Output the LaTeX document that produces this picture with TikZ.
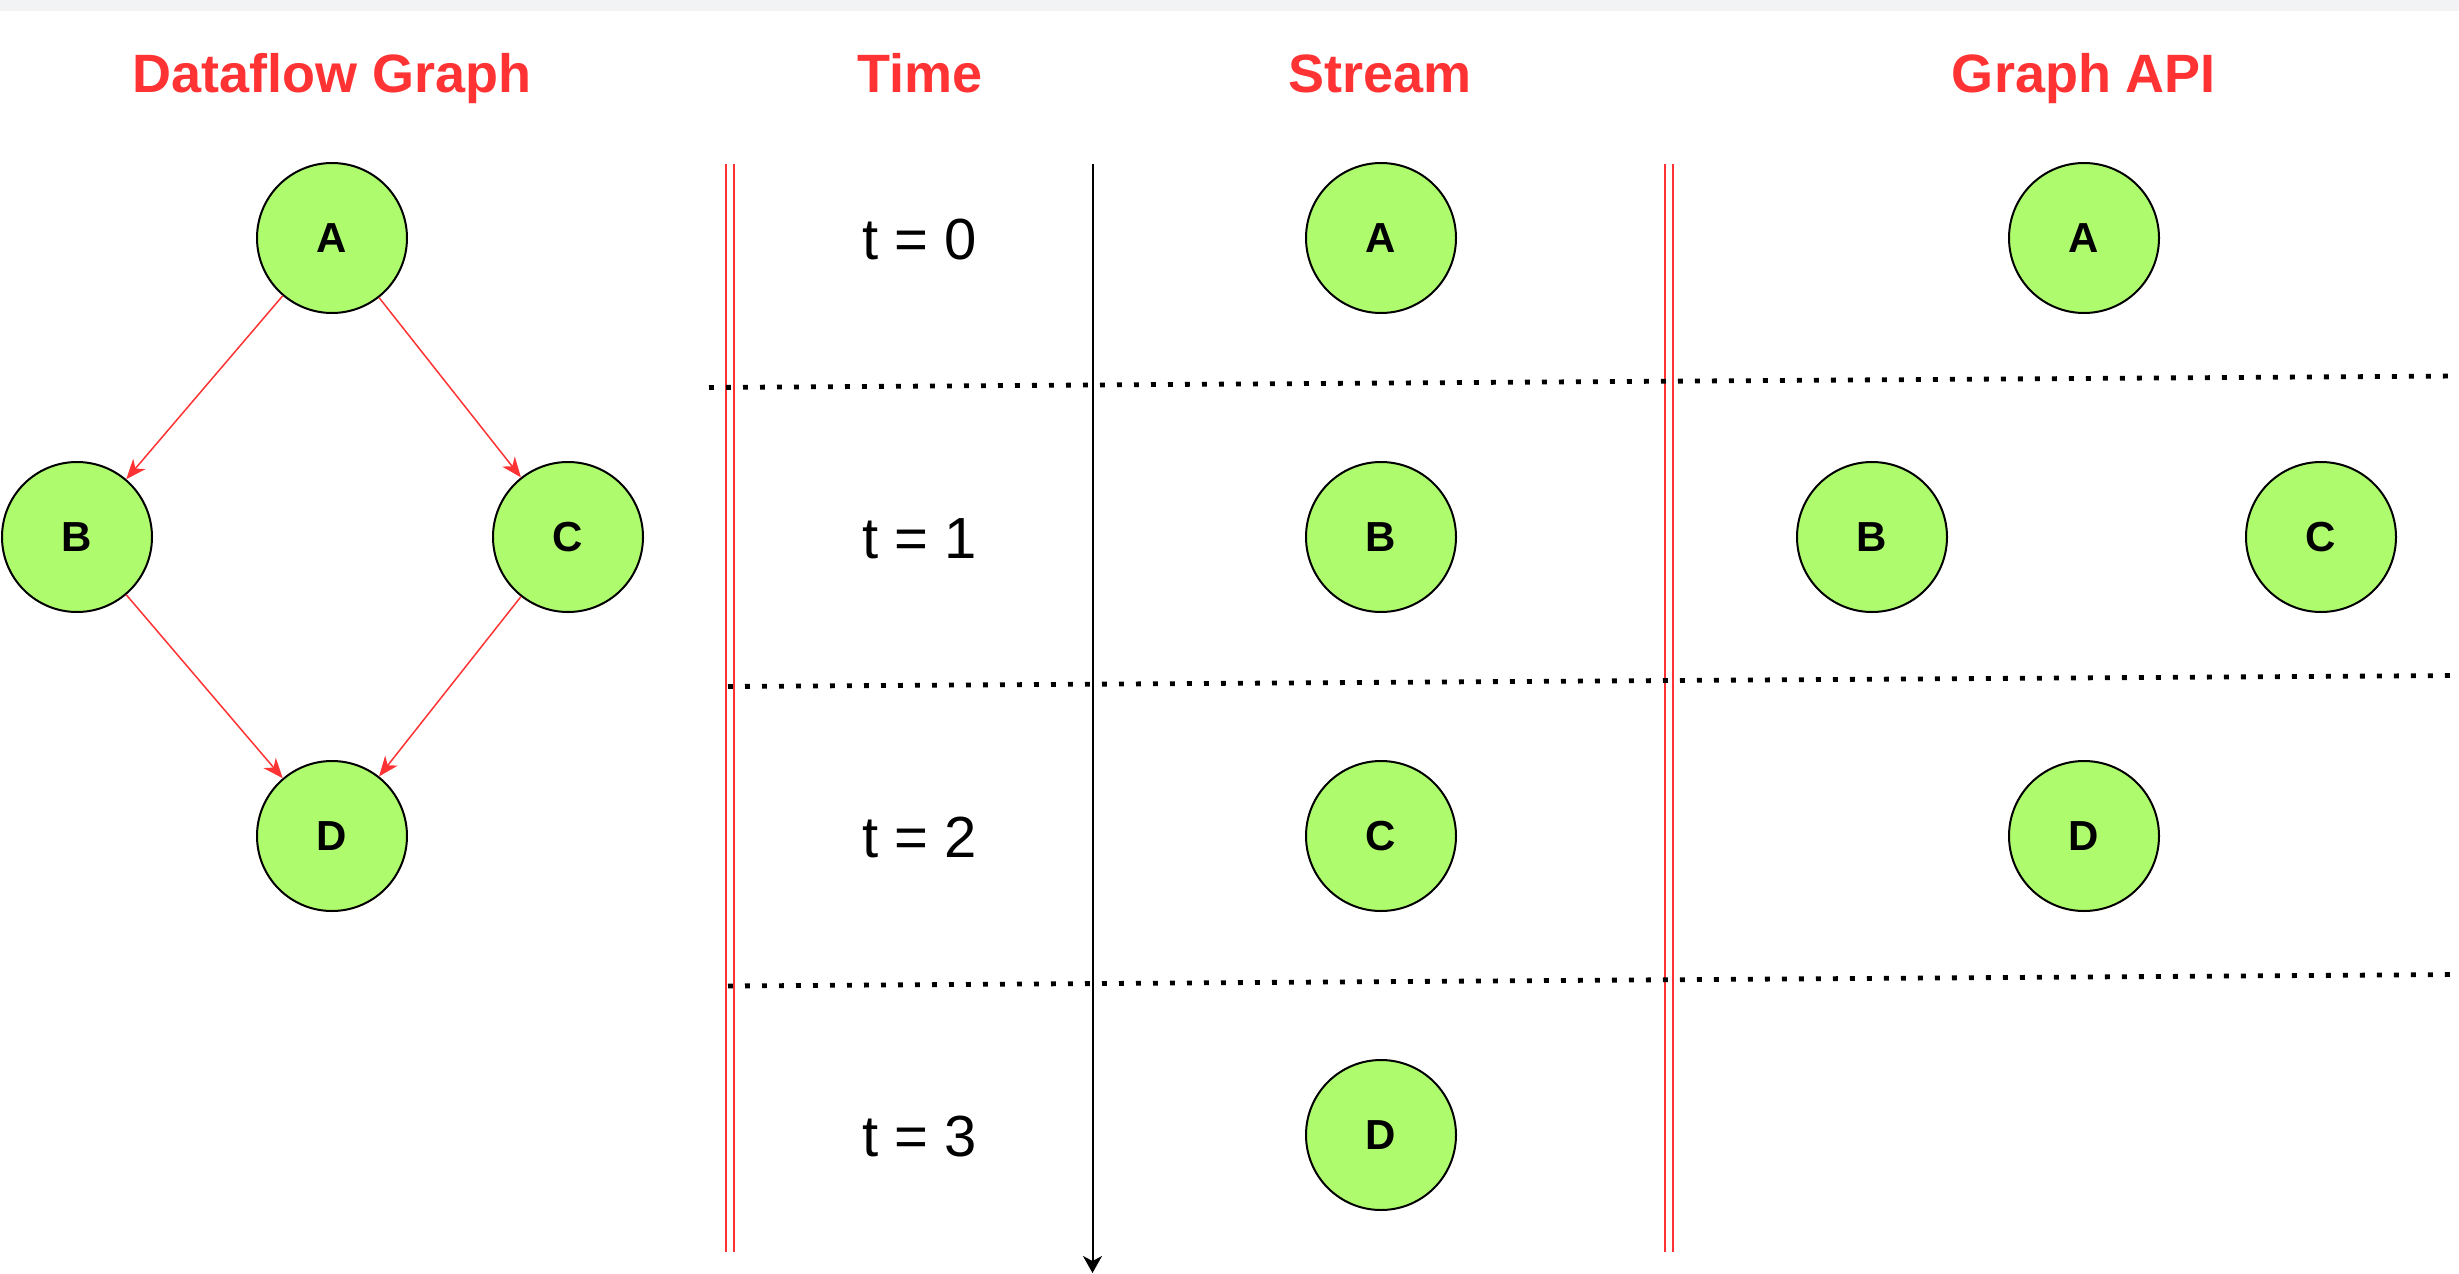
\documentclass[tikz,border=0pt]{standalone}
\usepackage{fontspec}
\setmainfont{Liberation Sans}
\usetikzlibrary{arrows.meta}
\definecolor{nodegreen}{HTML}{AEFC6E}
\definecolor{titlered}{HTML}{FF3333}
\definecolor{bandgrey}{HTML}{F2F3F5}
\tikzset{
  vertex/.style={circle, draw=black, line width=1pt, fill=nodegreen, minimum size=75pt, inner sep=0pt, font=\fontsize{21}{21}\selectfont\bfseries},
  coltitle/.style={anchor=base, text=titlered, font=\fontsize{27}{27}\selectfont\bfseries},
  tlabel/.style={anchor=base, font=\fontsize{29}{29}\selectfont},
  flow/.style={draw=titlered, line width=0.75pt, -{Stealth[length=10pt,width=8pt,inset=3pt]}},
  sepline/.style={draw=titlered, line width=1.1pt},
  dotline/.style={draw=black, line width=2.4pt, dash pattern=on 2.4pt off 6.1pt},
  axis/.style={draw=black, line width=1pt, -{Stealth[length=8.5pt,width=9.5pt,inset=2.5pt]}}
}
\begin{document}
\begin{tikzpicture}[x=0.5pt, y=-0.5pt]
\useasboundingbox (0,0) rectangle (2459,1274);
\fill[bandgrey] (0,0) rectangle (2459,11);

% titles
\node[coltitle] (t1) at (332,92) {Dataflow Graph};
\node[coltitle] (t2) at (920,92) {Time};
\node[coltitle] (t3) at (1380,92) {Stream};
\node[coltitle] (t4) at (2084,92) {Graph API};

% separators
\coordinate (s1a) at (726,164); \coordinate (s1b) at (726,1252);
\coordinate (s2a) at (734,164); \coordinate (s2b) at (734,1252);
\coordinate (s3a) at (1665,164); \coordinate (s3b) at (1665,1252);
\coordinate (s4a) at (1673,164); \coordinate (s4b) at (1673,1252);
\draw[sepline] (s1a) -- (s1b);
\draw[sepline] (s2a) -- (s2b);
\draw[sepline] (s3a) -- (s3b);
\draw[sepline] (s4a) -- (s4b);

% dotted rows
\coordinate (d1a) at (709,387.5); \coordinate (d1b) at (2459,376);
\coordinate (d2a) at (728,686.5); \coordinate (d2b) at (2459,675.5);
\coordinate (d3a) at (728,986);   \coordinate (d3b) at (2459,974.5);
\draw[dotline] (d1a) -- (d1b);
\draw[dotline] (d2a) -- (d2b);
\draw[dotline] (d3a) -- (d3b);

% time axis
\coordinate (ax0) at (1092.5,164);
\coordinate (ax1) at (1092.5,1273);
\draw[axis] (ax0) -- (ax1);

% time labels
\node[tlabel] (l0) at (920,259) {t = 0};
\node[tlabel] (l1) at (920,558) {t = 1};
\node[tlabel] (l2) at (920,857) {t = 2};
\node[tlabel] (l3) at (920,1156) {t = 3};

% dataflow graph
\node[vertex] (A) at (332,238) {A};
\node[vertex] (B) at (77,537) {B};
\node[vertex] (C) at (568,537) {C};
\node[vertex] (D) at (332,836) {D};
\draw[flow] (A) -- (B);
\draw[flow] (A) -- (C);
\draw[flow] (B) -- (D);
\draw[flow] (C) -- (D);

% stream
\node[vertex] (SA) at (1381,238) {A};
\node[vertex] (SB) at (1381,537) {B};
\node[vertex] (SC) at (1381,836) {C};
\node[vertex] (SD) at (1381,1135) {D};

% graph API
\node[vertex] (GA) at (2084,238) {A};
\node[vertex] (GB) at (1872,537) {B};
\node[vertex] (GC) at (2321,537) {C};
\node[vertex] (GD) at (2084,836) {D};
\end{tikzpicture}
\end{document}
